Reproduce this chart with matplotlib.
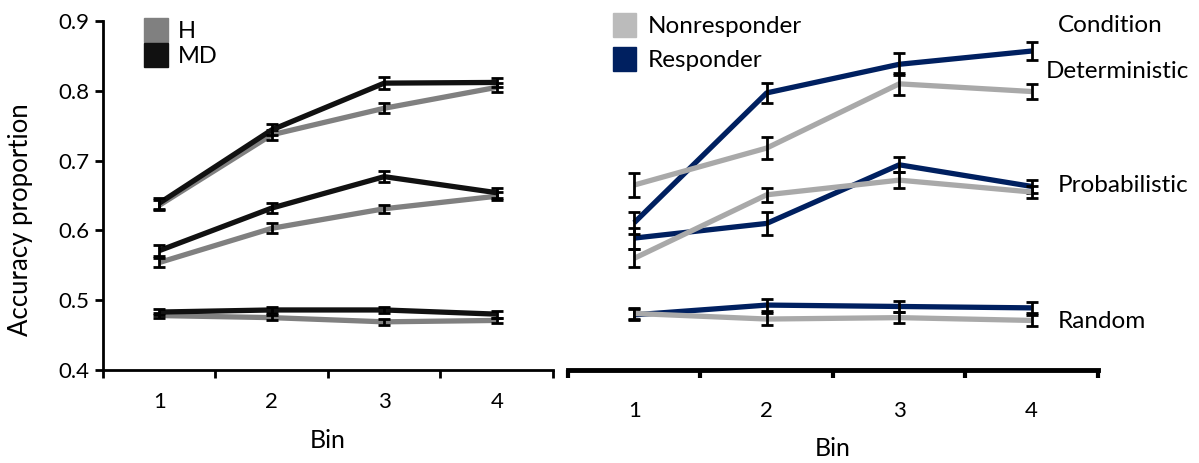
import numpy as np
import matplotlib
matplotlib.use("Agg")
from matplotlib import pyplot as plt
from matplotlib.patches import Patch

plt.rcParams['font.family'] = ['Lato', 'DejaVu Sans']

bins = [1, 2, 3, 4]
bin_labels = ["1", "2", "3", "4"]

# left panel: H vs MD
h_det = [0.636, 0.737, 0.775, 0.805]
h_prob = [0.554, 0.603, 0.631, 0.649]
h_rand = [0.478, 0.475, 0.469, 0.471]
md_det = [0.639, 0.744, 0.811, 0.812]
md_prob = [0.571, 0.632, 0.677, 0.654]
md_rand = [0.483, 0.486, 0.486, 0.480]
h_det_err = [0.007, 0.007, 0.007, 0.006]
h_prob_err = [0.007, 0.007, 0.006, 0.006]
h_rand_err = [0.004, 0.004, 0.004, 0.004]
md_det_err = [0.008, 0.008, 0.009, 0.007]
md_prob_err = [0.008, 0.007, 0.008, 0.007]
md_rand_err = [0.004, 0.004, 0.004, 0.005]

# right panel: Nonresponder vs Responder
nr_det = [0.665, 0.718, 0.810, 0.799]
nr_prob = [0.560, 0.651, 0.672, 0.655]
nr_rand = [0.481, 0.473, 0.475, 0.471]
r_det = [0.611, 0.797, 0.838, 0.857]
r_prob = [0.589, 0.610, 0.694, 0.663]
r_rand = [0.479, 0.493, 0.491, 0.489]
nr_det_err = [0.017, 0.016, 0.016, 0.011]
nr_prob_err = [0.013, 0.010, 0.011, 0.009]
nr_rand_err = [0.008, 0.008, 0.008, 0.008]
r_det_err = [0.016, 0.014, 0.016, 0.013]
r_prob_err = [0.015, 0.016, 0.011, 0.009]
r_rand_err = [0.008, 0.008, 0.008, 0.008]

C_H = "#808080"
C_MD = "#111111"
C_NR = "#A9A9A9"
C_R = "#002060"

fig = plt.figure(figsize=(11.99, 4.63), dpi=100)
ax1 = fig.add_axes([0.0859, 0.2009, 0.3753, 0.7537])
ax2 = fig.add_axes([0.4737, 0.2009, 0.4420, 0.7537])


def draw(ax, series, color, z):
    for vals, errs in series:
        ax.plot(bins, vals, color=color, lw=3.8, zorder=z, solid_capstyle='butt')
        ax.errorbar(bins, vals, yerr=errs, fmt='none', ecolor='black',
                    elinewidth=2, capsize=4, capthick=2, zorder=z + 0.5)


draw(ax1, [(h_det, h_det_err), (h_prob, h_prob_err), (h_rand, h_rand_err)], C_H, 2)
draw(ax1, [(md_det, md_det_err), (md_prob, md_prob_err), (md_rand, md_rand_err)], C_MD, 3)
draw(ax2, [(r_det, r_det_err), (r_prob, r_prob_err), (r_rand, r_rand_err)], C_R, 2)
draw(ax2, [(nr_det, nr_det_err), (nr_prob, nr_prob_err), (nr_rand, nr_rand_err)], C_NR, 3)

for ax in (ax1, ax2):
    ax.set_xlim(0.5, 4.5)
    ax.set_ylim(0.4, 0.9)
    ax.set_xticks([0.5, 1.5, 2.5, 3.5, 4.5])
    ax.set_xticklabels([])
    ax.set_xticks(bins, minor=True)
    ax.set_xticklabels(bin_labels, minor=True, fontsize=16)
    ax.tick_params(axis='x', which='major', direction='out', length=6, width=2)
    ax.tick_params(axis='x', which='minor', length=0, pad=16)
    ax.spines['top'].set_visible(False)
    ax.spines['right'].set_visible(False)
    ax.set_xlabel("Bin", fontsize=18)

ax1.spines['left'].set_linewidth(2)
ax1.spines['bottom'].set_linewidth(2)
ax1.set_yticks([0.4, 0.5, 0.6, 0.7, 0.8, 0.9])
ax1.set_yticklabels(["0.4", "0.5", "0.6", "0.7", "0.8", "0.9"], fontsize=16)
ax1.tick_params(axis='y', direction='out', length=6, width=2, pad=4)
ax1.set_ylabel("Accuracy proportion", fontsize=18.5)
ax1.yaxis.set_label_coords(-0.155, 0.43)
ax1.xaxis.labelpad = 12

ax2.spines['left'].set_visible(False)
ax2.spines['bottom'].set_linewidth(3.5)
ax2.set_yticks([])
ax2.tick_params(axis='x', which='minor', pad=22)
ax2.tick_params(axis='x', which='major', width=3)
ax2.xaxis.labelpad = 12

leg1 = ax1.legend(handles=[Patch(color=C_H, label="H"), Patch(color=C_MD, label="MD")],
                  loc='upper left', bbox_to_anchor=(0.07, 1.035), frameon=False,
                  fontsize=17, handlelength=1.0, handleheight=1.15,
                  handletextpad=0.45, labelspacing=0.05, borderaxespad=0)
leg2 = ax2.legend(handles=[Patch(color="#BBBBBB", label="Nonresponder"),
                           Patch(color=C_R, label="Responder")],
                  loc='upper left', bbox_to_anchor=(0.066, 1.052), frameon=False,
                  fontsize=17.5, handlelength=0.95, handleheight=1.15,
                  handletextpad=0.5, labelspacing=0.4, borderaxespad=0)

fig.text(1058 / 1199, 1 - 25 / 463, "Condition", fontsize=17.5, va='center')
fig.text(1046 / 1199, 1 - 72 / 463, "Deterministic", fontsize=17.5, va='center')
fig.text(1058 / 1199, 1 - 185 / 463, "Probabilistic", fontsize=17.5, va='center')
fig.text(1058 / 1199, 1 - 321 / 463, "Random", fontsize=17.5, va='center')

fig.savefig("out.png", dpi=100)
